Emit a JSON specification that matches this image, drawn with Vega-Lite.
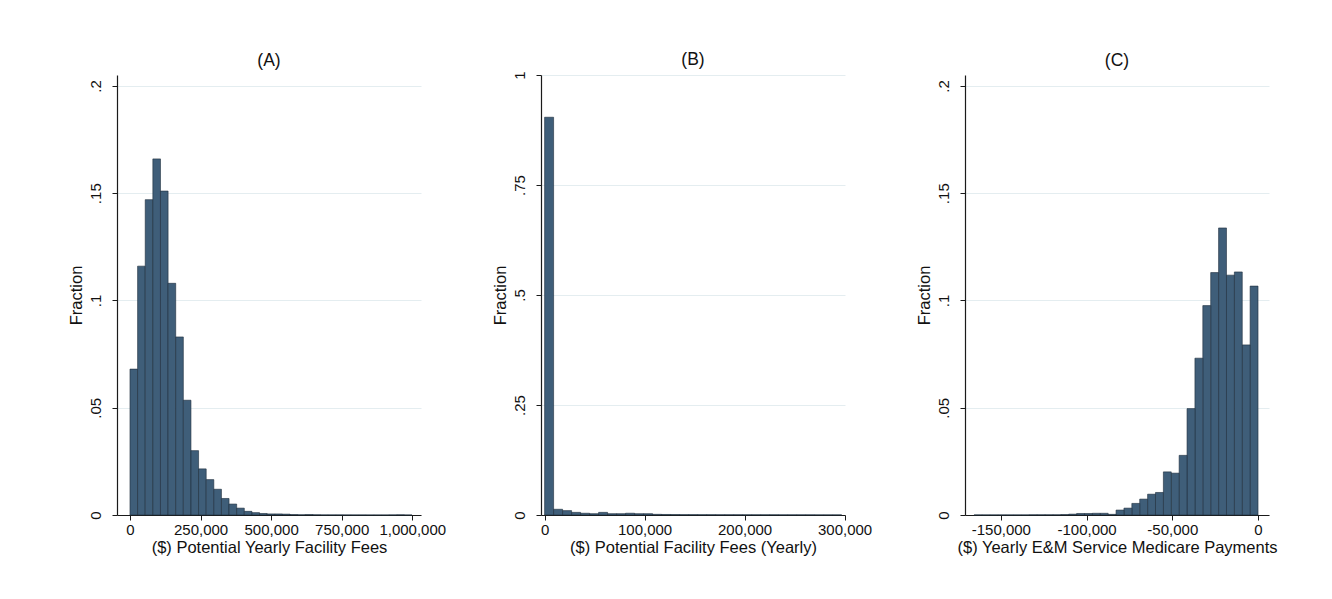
{
  "$schema": "https://vega.github.io/schema/vega-lite/v6.json",
  "background": "white",
  "padding": {"left": 67, "top": 51, "right": 5, "bottom": 5},
  "datasets": {
    "A": [
      {"bin_start": 0, "bin_end": 27000, "fraction": 0.068},
      {"bin_start": 27000, "bin_end": 54000, "fraction": 0.116},
      {"bin_start": 54000, "bin_end": 81000, "fraction": 0.147},
      {"bin_start": 81000, "bin_end": 108000, "fraction": 0.166},
      {"bin_start": 108000, "bin_end": 135000, "fraction": 0.151},
      {"bin_start": 135000, "bin_end": 162000, "fraction": 0.108},
      {"bin_start": 162000, "bin_end": 189000, "fraction": 0.083},
      {"bin_start": 189000, "bin_end": 216000, "fraction": 0.0535},
      {"bin_start": 216000, "bin_end": 243000, "fraction": 0.030},
      {"bin_start": 243000, "bin_end": 270000, "fraction": 0.0215},
      {"bin_start": 270000, "bin_end": 297000, "fraction": 0.0165},
      {"bin_start": 297000, "bin_end": 324000, "fraction": 0.012},
      {"bin_start": 324000, "bin_end": 351000, "fraction": 0.0077},
      {"bin_start": 351000, "bin_end": 378000, "fraction": 0.0051},
      {"bin_start": 378000, "bin_end": 405000, "fraction": 0.0032},
      {"bin_start": 405000, "bin_end": 432000, "fraction": 0.0017},
      {"bin_start": 432000, "bin_end": 459000, "fraction": 0.0011},
      {"bin_start": 459000, "bin_end": 486000, "fraction": 0.0007},
      {"bin_start": 486000, "bin_end": 513000, "fraction": 0.0005},
      {"bin_start": 513000, "bin_end": 540000, "fraction": 0.0005},
      {"bin_start": 540000, "bin_end": 567000, "fraction": 0.0004},
      {"bin_start": 567000, "bin_end": 594000, "fraction": 0.0002},
      {"bin_start": 594000, "bin_end": 621000, "fraction": 0.0001},
      {"bin_start": 621000, "bin_end": 648000, "fraction": 0.0002},
      {"bin_start": 648000, "bin_end": 675000, "fraction": 0.0001},
      {"bin_start": 675000, "bin_end": 702000, "fraction": 0.00005},
      {"bin_start": 702000, "bin_end": 729000, "fraction": 0.00005},
      {"bin_start": 729000, "bin_end": 756000, "fraction": 0.00005},
      {"bin_start": 756000, "bin_end": 783000, "fraction": 0.00003},
      {"bin_start": 783000, "bin_end": 810000, "fraction": 0.00003},
      {"bin_start": 810000, "bin_end": 837000, "fraction": 0.00003},
      {"bin_start": 837000, "bin_end": 864000, "fraction": 0.00003},
      {"bin_start": 864000, "bin_end": 891000, "fraction": 0.00003},
      {"bin_start": 891000, "bin_end": 918000, "fraction": 0.00003},
      {"bin_start": 918000, "bin_end": 945000, "fraction": 0.00005},
      {"bin_start": 945000, "bin_end": 972000, "fraction": 0.0001},
      {"bin_start": 972000, "bin_end": 999000, "fraction": 0.00003}
    ],
    "B": [
      {"bin_start": 0, "bin_end": 9000, "fraction": 0.904},
      {"bin_start": 9000, "bin_end": 18000, "fraction": 0.013},
      {"bin_start": 18000, "bin_end": 27000, "fraction": 0.010},
      {"bin_start": 27000, "bin_end": 36000, "fraction": 0.006},
      {"bin_start": 36000, "bin_end": 45000, "fraction": 0.004},
      {"bin_start": 45000, "bin_end": 54000, "fraction": 0.003},
      {"bin_start": 54000, "bin_end": 63000, "fraction": 0.006},
      {"bin_start": 63000, "bin_end": 72000, "fraction": 0.003},
      {"bin_start": 72000, "bin_end": 81000, "fraction": 0.003},
      {"bin_start": 81000, "bin_end": 90000, "fraction": 0.004},
      {"bin_start": 90000, "bin_end": 99000, "fraction": 0.003},
      {"bin_start": 99000, "bin_end": 108000, "fraction": 0.003},
      {"bin_start": 108000, "bin_end": 117000, "fraction": 0.0015},
      {"bin_start": 117000, "bin_end": 126000, "fraction": 0.0012},
      {"bin_start": 126000, "bin_end": 135000, "fraction": 0.001},
      {"bin_start": 135000, "bin_end": 144000, "fraction": 0.0008},
      {"bin_start": 144000, "bin_end": 153000, "fraction": 0.0008},
      {"bin_start": 153000, "bin_end": 162000, "fraction": 0.0007},
      {"bin_start": 162000, "bin_end": 171000, "fraction": 0.0007},
      {"bin_start": 171000, "bin_end": 180000, "fraction": 0.0006},
      {"bin_start": 180000, "bin_end": 189000, "fraction": 0.0006},
      {"bin_start": 189000, "bin_end": 198000, "fraction": 0.0006},
      {"bin_start": 198000, "bin_end": 207000, "fraction": 0.0005},
      {"bin_start": 207000, "bin_end": 216000, "fraction": 0.0005},
      {"bin_start": 216000, "bin_end": 225000, "fraction": 0.0005},
      {"bin_start": 225000, "bin_end": 234000, "fraction": 0.0005},
      {"bin_start": 234000, "bin_end": 243000, "fraction": 0.0004},
      {"bin_start": 243000, "bin_end": 252000, "fraction": 0.0004},
      {"bin_start": 252000, "bin_end": 261000, "fraction": 0.0004},
      {"bin_start": 261000, "bin_end": 270000, "fraction": 0.0004},
      {"bin_start": 270000, "bin_end": 279000, "fraction": 0.0003},
      {"bin_start": 279000, "bin_end": 288000, "fraction": 0.0003},
      {"bin_start": 288000, "bin_end": 297000, "fraction": 0.0003}
    ],
    "C": [
      {"bin_start": -4600, "bin_end": 0, "fraction": 0.1067},
      {"bin_start": -9200, "bin_end": -4600, "fraction": 0.0793},
      {"bin_start": -13800, "bin_end": -9200, "fraction": 0.1133},
      {"bin_start": -18400, "bin_end": -13800, "fraction": 0.1118},
      {"bin_start": -23000, "bin_end": -18400, "fraction": 0.1338},
      {"bin_start": -27600, "bin_end": -23000, "fraction": 0.1130},
      {"bin_start": -32200, "bin_end": -27600, "fraction": 0.0976},
      {"bin_start": -36800, "bin_end": -32200, "fraction": 0.0731},
      {"bin_start": -41400, "bin_end": -36800, "fraction": 0.0496},
      {"bin_start": -46000, "bin_end": -41400, "fraction": 0.0278},
      {"bin_start": -50600, "bin_end": -46000, "fraction": 0.0195},
      {"bin_start": -55200, "bin_end": -50600, "fraction": 0.0201},
      {"bin_start": -59800, "bin_end": -55200, "fraction": 0.0105},
      {"bin_start": -64400, "bin_end": -59800, "fraction": 0.0097},
      {"bin_start": -69000, "bin_end": -64400, "fraction": 0.0074},
      {"bin_start": -73600, "bin_end": -69000, "fraction": 0.0054},
      {"bin_start": -78200, "bin_end": -73600, "fraction": 0.0032},
      {"bin_start": -82800, "bin_end": -78200, "fraction": 0.0023},
      {"bin_start": -87400, "bin_end": -82800, "fraction": 0.0003},
      {"bin_start": -92000, "bin_end": -87400, "fraction": 0.0008},
      {"bin_start": -96600, "bin_end": -92000, "fraction": 0.0008},
      {"bin_start": -101200, "bin_end": -96600, "fraction": 0.0007},
      {"bin_start": -105800, "bin_end": -101200, "fraction": 0.0007},
      {"bin_start": -110400, "bin_end": -105800, "fraction": 0.0004},
      {"bin_start": -115000, "bin_end": -110400, "fraction": 0.0002},
      {"bin_start": -119600, "bin_end": -115000, "fraction": 0.0001},
      {"bin_start": -124200, "bin_end": -119600, "fraction": 0.0001},
      {"bin_start": -128800, "bin_end": -124200, "fraction": 0.0001},
      {"bin_start": -133400, "bin_end": -128800, "fraction": 0.0001},
      {"bin_start": -138000, "bin_end": -133400, "fraction": 0.00005},
      {"bin_start": -142600, "bin_end": -138000, "fraction": 0.00005},
      {"bin_start": -147200, "bin_end": -142600, "fraction": 0.00005},
      {"bin_start": -151800, "bin_end": -147200, "fraction": 0.00005},
      {"bin_start": -156400, "bin_end": -151800, "fraction": 0.00005},
      {"bin_start": -161000, "bin_end": -156400, "fraction": 0.00005},
      {"bin_start": -165600, "bin_end": -161000, "fraction": 0.00005}
    ]
  },
  "spacing": 120,
  "bounds": "flush",
  "config": {
    "font": "Liberation Sans",
    "view": {"stroke": null},
    "axis": {
      "domainColor": "#1a1a1a",
      "domainWidth": 1.2,
      "tickColor": "#1a1a1a",
      "tickSize": 5,
      "tickWidth": 1,
      "labelFont": "Liberation Sans",
      "labelFontSize": 15,
      "labelColor": "#111",
      "titleFont": "Liberation Sans",
      "titleFontSize": 16.5,
      "titleFontWeight": "normal",
      "titleColor": "#111",
      "gridColor": "#e4edf0",
      "gridWidth": 1
    },
    "axisX": {"grid": false, "labelPadding": 2, "titlePadding": 2, "labelFlush": false},
    "axisY": {"labelAngle": 270, "labelAlign": "center", "labelBaseline": "bottom", "labelPadding": 9, "titlePadding": 4},
    "title": {"font": "Liberation Sans", "fontSize": 17.5, "fontWeight": "normal", "color": "#111", "offset": 6, "anchor": "middle"},
    "bar": {"fill": "#3f5e79", "stroke": "#1d2c3a", "strokeWidth": 0.6}
  },
  "hconcat": [
    {
      "title": "(A)",
      "width": 304,
      "height": 440,
      "data": {"name": "A"},
      "mark": {"type": "bar"},
      "encoding": {
        "x": {"field": "bin_start", "type": "quantitative",
              "scale": {"domain": [-46000, 1031000], "nice": false, "zero": false},
              "axis": {"values": [0, 250000, 500000, 750000, 1000000], "labelExpr": "format(datum.value, ',')", "title": "($) Potential Yearly Facility Fees"}},
        "x2": {"field": "bin_end"},
        "y": {"field": "fraction", "type": "quantitative",
              "scale": {"domain": [0, 0.2051], "nice": false},
              "axis": {"values": [0, 0.05, 0.1, 0.15, 0.2], "labelExpr": "datum.value == 0 ? '0' : replace(toString(datum.value), '0.', '.')", "title": "Fraction"}},
        "y2": {"datum": 0}
      }
    },
    {
      "title": {"text": "(B)", "offset": 2},
      "width": 304,
      "height": 440,
      "data": {"name": "B"},
      "mark": {"type": "bar"},
      "encoding": {
        "x": {"field": "bin_start", "type": "quantitative",
              "scale": {"domain": [-3600, 300400], "nice": false, "zero": false},
              "axis": {"values": [0, 100000, 200000, 300000], "labelExpr": "format(datum.value, ',')", "title": "($) Potential Facility Fees (Yearly)"}},
        "x2": {"field": "bin_end"},
        "y": {"field": "fraction", "type": "quantitative",
              "scale": {"domain": [0, 1], "nice": false},
              "axis": {"values": [0, 0.25, 0.5, 0.75, 1], "labelExpr": "datum.value == 0 ? '0' : replace(toString(datum.value), '0.', '.')", "title": "Fraction"}},
        "y2": {"datum": 0}
      }
    },
    {
      "title": "(C)",
      "width": 304,
      "height": 440,
      "data": {"name": "C"},
      "mark": {"type": "bar"},
      "encoding": {
        "x": {"field": "bin_start", "type": "quantitative",
              "scale": {"domain": [-170900, 6400], "nice": false, "zero": false},
              "axis": {"values": [-150000, -100000, -50000, 0], "labelExpr": "replace(format(datum.value, ','), '\u2212', '-')", "title": "($) Yearly E&M Service Medicare Payments"}},
        "x2": {"field": "bin_end"},
        "y": {"field": "fraction", "type": "quantitative",
              "scale": {"domain": [0, 0.2051], "nice": false},
              "axis": {"values": [0, 0.05, 0.1, 0.15, 0.2], "labelExpr": "datum.value == 0 ? '0' : replace(toString(datum.value), '0.', '.')", "title": "Fraction"}},
        "y2": {"datum": 0}
      }
    }
  ]
}
